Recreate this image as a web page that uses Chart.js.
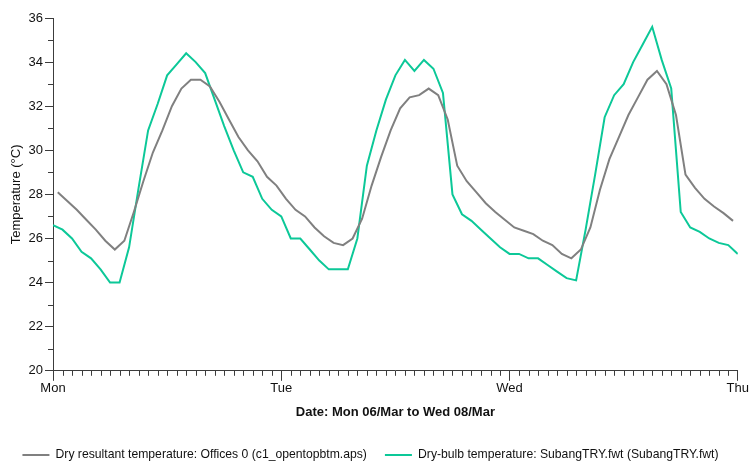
<!DOCTYPE html>
<html>
<head>
<meta charset="utf-8">
<title>Temperature</title>
<script src="https://cdn.jsdelivr.net/npm/chart.js@4.4.1/dist/chart.umd.min.js"></script>
<style>
  html, body { margin: 0; padding: 0; background: #fff; }
  canvas { display: block; }
</style>
</head>
<body>
<canvas id="tempChart" width="749" height="464"></canvas>
<script>
// day names on the hour axis (one every 24 h)
const dayLabels = ['Mon', 'Tue', 'Wed', 'Thu'];

// hourly mean resultant temperature, plotted at the half hour (0.5 .. 71.5)
const resultantTemp = [
  28.1, 27.7, 27.3, 26.85, 26.4, 25.9, 25.5, 25.9, 27.2, 28.6, 29.9, 30.9,
  32.0, 32.8, 33.2, 33.2, 32.9, 32.2, 31.4, 30.6, 30.0, 29.5, 28.8, 28.4,
  27.8, 27.3, 27.0, 26.5, 26.1, 25.8, 25.7, 26.0, 26.9, 28.4, 29.7, 30.9,
  31.9, 32.4, 32.5, 32.8, 32.5, 31.4, 29.3, 28.6, 28.1, 27.6, 27.2, 26.85,
  26.5, 26.35, 26.2, 25.9, 25.7, 25.3, 25.1, 25.5, 26.5, 28.2, 29.6, 30.6,
  31.6, 32.4, 33.2, 33.6, 33.0, 31.6, 28.9, 28.3, 27.8, 27.45, 27.15, 26.8
];

// weather file dry-bulb temperature, on the hour (0 .. 72)
const dryBulbTemp = [
  26.6, 26.4, 26.0, 25.4, 25.1, 24.6, 24.0, 24.0, 25.6, 28.3, 30.9, 32.1,
  33.4, 33.9, 34.4, 34.0, 33.5, 32.3, 31.1, 30.0, 29.0, 28.8, 27.8, 27.3,
  27.0, 26.0, 26.0, 25.5, 25.0, 24.6, 24.6, 24.6, 26.0, 29.3, 30.9, 32.3,
  33.4, 34.1, 33.6, 34.1, 33.7, 32.6, 28.0, 27.1, 26.8, 26.4, 26.0, 25.6,
  25.3, 25.3, 25.1, 25.1, 24.8, 24.5, 24.2, 24.1, 26.4, 28.9, 31.5, 32.5,
  33.0, 34.0, 34.8, 35.6, 34.1, 32.8, 27.2, 26.5, 26.3, 26.0, 25.8, 25.7,
  25.3
];

const seriesNames = [
  'Dry resultant temperature: Offices 0 (c1_opentopbtm.aps)',
  'Dry-bulb temperature: SubangTRY.fwt (SubangTRY.fwt)'
];

const axisColor = '#3c3c3c';
const fontFamily = "'Liberation Sans', Arial, sans-serif";

// short hourly ticks on x and 1 degree ticks on y
const minorTicks = {
  id: 'minorTicks',
  afterDraw(chart) {
    const {ctx, chartArea, scales: {x, y}} = chart;
    ctx.save();
    ctx.strokeStyle = axisColor;
    ctx.lineWidth = 1;
    ctx.beginPath();
    for (let h = x.min; h <= x.max; h++) {
      if (h % 24 === 0) continue;
      const px = Math.round(x.getPixelForValue(h)) + 0.5;
      ctx.moveTo(px, chartArea.bottom);
      ctx.lineTo(px, chartArea.bottom + 5);
    }
    for (let v = y.min; v <= y.max; v++) {
      if (v % 2 === 0) continue;
      const py = Math.round(y.getPixelForValue(v)) + 0.5;
      ctx.moveTo(chartArea.left - 5, py);
      ctx.lineTo(chartArea.left, py);
    }
    ctx.stroke();
    ctx.restore();
  }
};

const ctx = document.getElementById('tempChart').getContext('2d');

new Chart(ctx, {
  type: 'line',
  data: {
    datasets: [{
      label: seriesNames[0],
      data: resultantTemp.map((v, i) => ({x: i + 0.5, y: v})),
      borderColor: '#808080',
      backgroundColor: '#808080',
      borderWidth: 2,
      pointRadius: 0,
      tension: 0
    }, {
      label: seriesNames[1],
      data: dryBulbTemp.map((v, i) => ({x: i, y: v})),
      borderColor: '#0cc898',
      backgroundColor: '#0cc898',
      borderWidth: 2,
      pointRadius: 0,
      tension: 0
    }]
  },
  options: {
    responsive: false,
    animation: false,
    layout: {
      autoPadding: false,
      padding: {top: 18, right: 8, bottom: -7, left: 0}
    },
    scales: {
      x: {
        type: 'linear',
        min: 0,
        max: 72,
        afterFit(scale) { scale.height = 60; },
        border: {display: true, color: axisColor, width: 1},
        grid: {drawOnChartArea: false, drawTicks: true, tickLength: 10, tickColor: axisColor},
        ticks: {
          stepSize: 24,
          autoSkip: false,
          maxRotation: 0,
          padding: 0,
          color: '#111',
          font: {family: fontFamily, size: 13},
          callback: (value) => dayLabels[value / 24]
        },
        title: {
          display: true,
          text: 'Date: Mon 06/Mar to Wed 08/Mar',
          color: '#111',
          font: {family: fontFamily, size: 13, weight: 'bold'},
          padding: {top: 0, bottom: 11}
        }
      },
      y: {
        min: 20,
        max: 36,
        afterFit(scale) { scale.width = 53; },
        border: {display: true, color: axisColor, width: 1},
        grid: {drawOnChartArea: false, drawTicks: true, tickLength: 8, tickColor: axisColor},
        ticks: {
          stepSize: 2,
          padding: 2,
          color: '#111',
          font: {family: fontFamily, size: 13}
        },
        title: {
          display: true,
          text: 'Temperature (°C)',
          color: '#111',
          font: {family: fontFamily, size: 13},
          padding: {top: 9, bottom: 0}
        }
      }
    },
    plugins: {
      legend: {
        position: 'bottom',
        labels: {
          usePointStyle: true,
          pointStyle: 'line',
          pointStyleWidth: 27,
          padding: 18,
          color: '#111',
          font: {family: fontFamily, size: 12.2}
        }
      },
      tooltip: {enabled: false}
    }
  },
  plugins: [minorTicks]
});
</script>
</body>
</html>
